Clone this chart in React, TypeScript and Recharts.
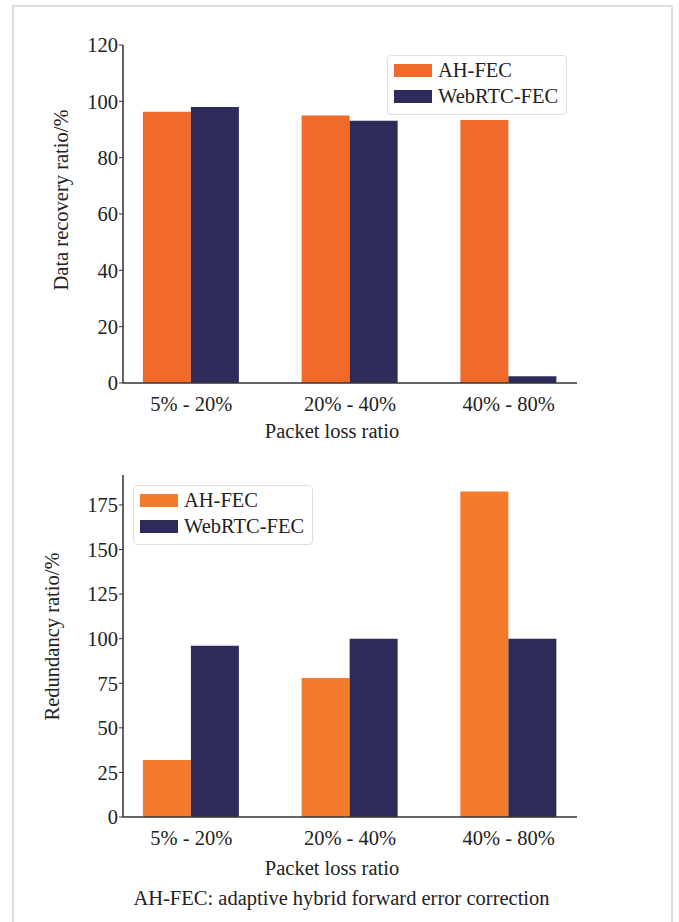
import { BarChart, Bar, XAxis, YAxis, Legend, Label } from 'recharts';

const FONT = "'Liberation Serif', 'DejaVu Serif', serif";
const INK = '#222';
const TEXT_SIZE = 20.5;

const categories = ['5% - 20%', '20% - 40%', '40% - 80%'];
const seriesNames = ['AH-FEC', 'WebRTC-FEC'];

const recoveryAH = [96.3, 95.0, 93.4];
const recoveryWeb = [98.0, 93.1, 2.4];
const recoveryTicks = [0, 20, 40, 60, 80, 100, 120];

const redundancyAH = [32, 78, 182.5];
const redundancyWeb = [96, 100, 100];
const redundancyTicks = [0, 25, 50, 75, 100, 125, 150, 175];

const NAVY = '#2d2b59';

function buildRows(ah: number[], web: number[]) {
  return categories.map((name, i) => ({ x: i, name, ah: ah[i], web: web[i] }));
}

function LegendBox({ orange }: { orange: string }) {
  const colors = [orange, NAVY];
  return (
    <div
      style={{
        width: 180,
        height: 60,
        boxSizing: 'border-box',
        border: '1px solid #dedede',
        borderRadius: 4,
        background: 'rgba(255,255,255,0.85)',
        fontFamily: FONT,
        fontSize: TEXT_SIZE,
        color: INK,
        paddingLeft: 6,
        paddingTop: 1,
      }}
    >
      {seriesNames.map((name, i) => (
        <div key={name} style={{ display: 'flex', alignItems: 'center', height: 26 }}>
          <span style={{ width: 38, height: 13, background: colors[i], marginRight: 6, display: 'inline-block' }} />
          <span style={{ lineHeight: '26px' }}>{name}</span>
        </div>
      ))}
    </div>
  );
}

interface PanelProps {
  top: number;
  height: number;
  rows: { x: number; name: string; ah: number; web: number }[];
  yTicks: number[];
  yMax: number;
  yLabel: string;
  yLabelDx: number;
  yLabelDy: number;
  orange: string;
  legendLeft: number;
  bottomGap: number;
  xLabelOffset: number;
}

function Panel({ top, height, rows, yTicks, yMax, yLabel, yLabelDx, yLabelDy, orange, legendLeft, bottomGap, xLabelOffset }: PanelProps) {
  const xDomain: [number, number] = [-0.43, 2.43];
  const axisStroke = '#333';
  const textStyle = { fill: INK, fontSize: TEXT_SIZE, fontFamily: FONT };
  return (
    <div style={{ position: 'absolute', left: 0, top }}>
      <BarChart
        width={679}
        height={height}
        data={rows}
        barGap={0}
        margin={{ top: 45, left: 63, right: 102, bottom: bottomGap }}
      >
        <XAxis
          dataKey="x"
          type="number"
          domain={xDomain}
          ticks={[0, 1, 2]}
          interval={0}
          tickFormatter={(v: number) => categories[v]}
          tick={textStyle}
          tickLine={false}
          tickSize={4}
          tickMargin={9}
          height={60}
          axisLine={{ stroke: axisStroke, strokeWidth: 1.5 }}
        >
          <Label value="Packet loss ratio" position="insideBottom" offset={xLabelOffset} dx={-18} style={textStyle} />
        </XAxis>
        <XAxis
          xAxisId="frame"
          dataKey="x"
          type="number"
          domain={xDomain}
          orientation="top"
          height={0}
          tick={false}
          tickLine={false}
          axisLine={{ stroke: axisStroke, strokeWidth: 1.3 }}
        />
        <YAxis
          type="number"
          domain={[0, yMax]}
          ticks={yTicks}
          interval={0}
          width={60}
          tickSize={4}
          tickMargin={1}
          tickLine={{ stroke: axisStroke }}
          tick={textStyle}
          axisLine={{ stroke: axisStroke, strokeWidth: 1.5 }}
        >
          <Label
            value={yLabel}
            angle={-90}
            position="center"
            dx={yLabelDx}
            dy={yLabelDy}
            style={{ ...textStyle, textAnchor: 'middle' }}
          />
        </YAxis>
        <YAxis
          yAxisId="frame"
          orientation="right"
          domain={[0, yMax]}
          width={0}
          tick={false}
          tickLine={false}
          axisLine={{ stroke: axisStroke, strokeWidth: 1.3 }}
        />
        <Legend
          align="center"
          verticalAlign="middle"
          layout="horizontal"
          wrapperStyle={{ left: legendLeft, top: 55, width: 180, height: 60 }}
          content={() => <LegendBox orange={orange} />}
        />
        <Bar dataKey="ah" name="AH-FEC" fill={orange} barSize={48} isAnimationActive={false} />
        <Bar dataKey="web" name="WebRTC-FEC" fill={NAVY} barSize={48} isAnimationActive={false} />
      </BarChart>
    </div>
  );
}

export default function App() {
  return (
    <div
      style={{
        position: 'absolute',
        left: 0,
        top: 0,
        width: 679,
        height: 922,
        background: '#fff',
        overflow: 'hidden',
        fontFamily: FONT,
      }}
    >
      <div
        style={{
          position: 'absolute',
          left: 12,
          top: 5,
          width: 661,
          height: 960,
          boxSizing: 'border-box',
          border: '2px solid #dcdcdc',
        }}
      />
      <Panel
        top={0}
        height={450}
        rows={buildRows(recoveryAH, recoveryWeb)}
        yTicks={recoveryTicks}
        yMax={120}
        yLabel="Data recovery ratio/%"
        yLabelDx={-32}
        yLabelDy={-14}
        orange="#f26a2b"
        legendLeft={387}
        bottomGap={7}
        xLabelOffset={5}
      />
      <Panel
        top={430}
        height={470}
        rows={buildRows(redundancyAH, redundancyWeb)}
        yTicks={redundancyTicks}
        yMax={191.8}
        yLabel="Redundancy ratio/%"
        yLabelDx={-41}
        yLabelDy={-9.5}
        orange="#f47b2c"
        legendLeft={133}
        bottomGap={23}
        xLabelOffset={2}
      />
      <div
        style={{
          position: 'absolute',
          left: 0,
          width: 683,
          top: 888,
          textAlign: 'center',
          fontFamily: FONT,
          fontSize: TEXT_SIZE,
          lineHeight: '20px',
          color: INK,
        }}
      >
        AH-FEC: adaptive hybrid forward error correction
      </div>
    </div>
  );
}
